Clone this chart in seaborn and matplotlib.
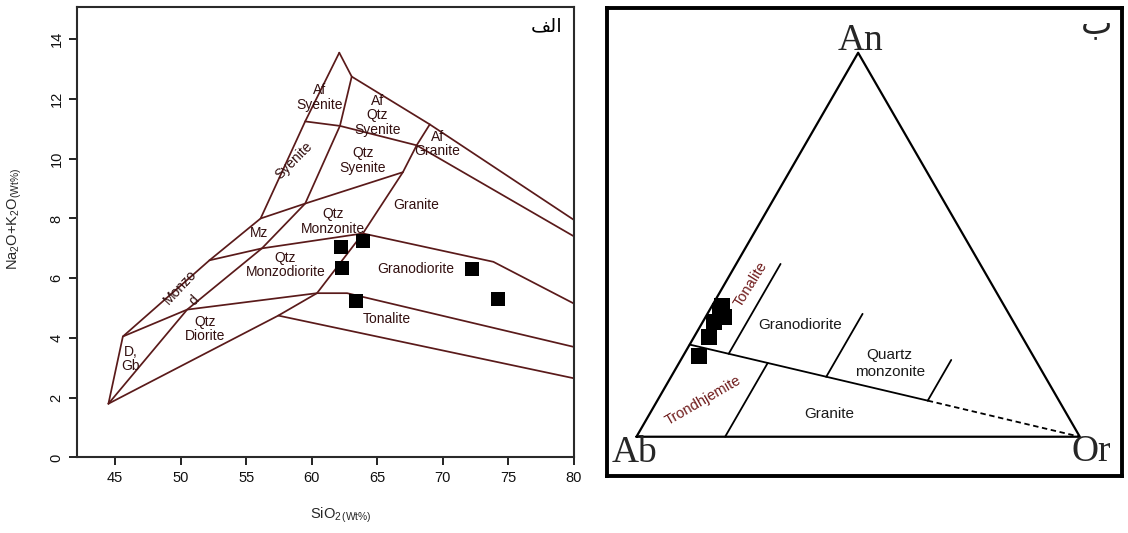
import numpy as np
import matplotlib
matplotlib.use('Agg')
import matplotlib.pyplot as plt
import seaborn as sns

sns.set_style('ticks')
plt.rcParams['font.family'] = ['Liberation Sans', 'DejaVu Sans']
plt.rcParams['mathtext.fontset'] = 'custom'
plt.rcParams['mathtext.rm'] = 'Liberation Sans'
plt.rcParams['mathtext.it'] = 'Liberation Sans:italic'

# ---- left panel: plutonic TAS field boundaries (SiO2 wt%, Na2O+K2O wt%) ----
outer_x = [44.5, 45.6, 52.2, 56.1, 59.5, 62.1]
outer_y = [1.8, 4.05, 6.6, 8.0, 11.25, 13.55]
top_x = [62.1, 63.05, 69.0, 80.0]
top_y = [13.55, 12.75, 11.15, 7.95]
alk_x = [59.5, 62.15, 68.0, 80.0]
alk_y = [11.25, 11.1, 10.45, 7.4]
mid_x = [44.5, 50.5, 56.2, 59.5, 62.15, 63.05]
mid_y = [1.8, 4.95, 7.0, 8.5, 11.1, 12.75]
diag_x = [57.45, 60.4, 63.9, 66.95, 68.0, 69.0]
diag_y = [4.75, 5.5, 7.5, 9.55, 10.45, 11.15]
mz_top_x = [56.1, 59.5, 66.95]
mz_top_y = [8.0, 8.5, 9.55]
mz_base_x = [52.2, 56.2, 63.9, 73.85, 80.0]
mz_base_y = [6.6, 7.0, 7.5, 6.55, 5.15]
dio_top_x = [45.6, 50.5, 60.4, 62.7, 80.0]
dio_top_y = [4.05, 4.95, 5.5, 5.5, 3.7]
dio_base_x = [44.5, 57.45, 80.0]
dio_base_y = [1.8, 4.75, 2.65]

# samples
sio2 = [62.2, 63.9, 62.3, 72.2, 63.4, 74.2]
alkali = [7.05, 7.25, 6.35, 6.3, 5.25, 5.3]

# field names
tas_labels = ['Af\nSyenite', 'Af\nQtz\nSyenite', 'Af\nGranite', 'Syenite', 'Qtz\nSyenite',
              'Granite', 'Qtz\nMonzonite', 'Mz', 'Qtz\nMonzodiorite', 'Granodiorite',
              'Monzo', 'd', 'Qtz\nDiorite', 'D,\nGb', 'Tonalite']
tas_lab_x = [60.6, 65.0, 69.6, 58.6, 63.9, 68.0, 61.6, 56.0, 58.0, 67.9, 50.0, 51.0, 51.9, 46.2, 65.7]
tas_lab_y = [12.05, 11.45, 10.5, 9.95, 9.95, 8.45, 7.9, 7.5, 6.45, 6.3, 5.7, 5.25, 4.3, 3.3, 4.65]
tas_lab_rot = [0, 0, 0, 45, 0, 0, 0, 0, 0, 0, 47, 47, 0, 0, 0]

# ---- right panel: An-Ab-Or (%) ----
tri_an = [0, 0, 100, 0]
tri_or = [0, 100, 0, 0]
div_an = [24, 9.4]
div_or = [0, 61]
dash_an = [9.4, 0]
dash_or = [61, 100]
ton_gd_an = [21.6, 45]
ton_gd_or = [10, 10]
tr_gr_an = [0, 19.2]
tr_gr_or = [20, 20]
gd_qm_an = [15.6, 32]
gd_qm_or = [35, 35]
qm_end_an = [9.4, 20]
qm_end_or = [61, 61]

smp_an = [21.0, 26.0, 30.0, 32.7, 31.2, 34.0]
smp_ab = [75.4, 70.6, 67.4, 64.8, 64.6, 63.7]
smp_or = [3.6, 3.4, 2.6, 2.5, 4.2, 2.3]

line_c = '#5a1a1a'
text_c = '#331010'


def tern(an, orr):
    an = np.asarray(an, float) / 100
    orr = np.asarray(orr, float) / 100
    return orr + an / 2, an * np.sqrt(3) / 2


fig = plt.figure(figsize=(11.28, 5.33), dpi=100)

# ---------------- left ----------------
ax = fig.add_axes([0.068, 0.1417, 0.4409, 0.8446])
for xs, ys in [(outer_x, outer_y), (top_x, top_y), (alk_x, alk_y), (mid_x, mid_y),
               (diag_x, diag_y), (mz_top_x, mz_top_y), (mz_base_x, mz_base_y),
               (dio_top_x, dio_top_y), (dio_base_x, dio_base_y)]:
    ax.plot(xs, ys, color=line_c, lw=1.25, zorder=2)

sns.scatterplot(x=sio2, y=alkali, marker='s', s=115, color='black', edgecolor='black',
                linewidth=0, ax=ax, zorder=4)

for t, x, y, r in zip(tas_labels, tas_lab_x, tas_lab_y, tas_lab_rot):
    ax.text(x, y, t, ha='center', va='center', fontsize=10, color=text_c,
            rotation=r, linespacing=1.05, zorder=3)

ax.text(77.9, 14.45, '\uFED2\uFEDF\uFE8D', ha='center', va='center', fontsize=14,
        family=['DejaVu Sans'], color='black')

ax.set_xlim(42.08, 80)
ax.set_ylim(0, 15.07)
ax.set_xticks([45, 50, 55, 60, 65, 70, 75, 80])
ax.set_yticks([0, 2, 4, 6, 8, 10, 12, 14])
ax.tick_params(axis='both', labelsize=10.5, length=6, width=1.3, colors='#111111')
for lab in ax.get_yticklabels():
    lab.set_rotation(90)
    lab.set_va('center')
for sp in ax.spines.values():
    sp.set_visible(True)
    sp.set_linewidth(1.5)
    sp.set_color('#2a2a2a')
ax.set_xlabel(r'SiO$_{2\,\mathrm{(Wt\%)}}$', fontsize=10.5)
ax.set_ylabel(r'Na$_2$O+K$_2$O$_{\mathrm{(Wt\%)}}$', fontsize=10.5)
ax.xaxis.set_label_coords(0.53, -0.108)
ax.yaxis.set_label_coords(-0.105, 0.53)

# ---------------- right ----------------
bx = fig.add_axes([0.5379, 0.1069, 0.4568, 0.8773])
bx.set_xlim(-0.067, 1.0952)
bx.set_ylim(-0.0886, 0.966)
bx.set_xticks([])
bx.set_yticks([])
for sp in bx.spines.values():
    sp.set_visible(True)
    sp.set_linewidth(2.8)
    sp.set_color('black')

tx, ty = tern(tri_an, tri_or)
bx.plot(tx, ty, color='black', lw=1.6)
for an, orr in [(div_an, div_or), (ton_gd_an, ton_gd_or), (tr_gr_an, tr_gr_or),
                (gd_qm_an, gd_qm_or), (qm_end_an, qm_end_or)]:
    px, py = tern(an, orr)
    bx.plot(px, py, color='black', lw=1.3)
px, py = tern(dash_an, dash_or)
bx.plot(px, py, color='black', lw=1.3, ls=(0, (3, 2)))

sx, sy = tern(smp_an, smp_or)
sns.scatterplot(x=sx, y=sy, marker='s', s=140, color='black', edgecolor='black',
                linewidth=0, ax=bx, zorder=4)

serif = ['Liberation Serif', 'DejaVu Serif']
bx.text(0.505, 0.894, 'An', ha='center', va='center', fontsize=27, family=serif)
bx.text(-0.004, -0.037, 'Ab', ha='center', va='center', fontsize=27, family=serif)
bx.text(1.025, -0.033, 'Or', ha='center', va='center', fontsize=27, family=serif)
bx.text(1.038, 0.932, '\u0628', ha='center', va='center', fontsize=24, family=['DejaVu Sans'])

red_c = '#6e1a1a'
bx.text(0.258, 0.343, 'Tonalite', ha='center', va='center', fontsize=10.5, rotation=58, color=red_c)
bx.text(0.150, 0.081, 'Trondhjemite', ha='center', va='center', fontsize=10.5, rotation=30, color=red_c)
bx.text(0.370, 0.252, 'Granodiorite', ha='center', va='center', fontsize=11, color='#1a1a1a')
bx.text(0.571, 0.165, 'Quartz\nmonzonite', ha='center', va='center', fontsize=11, color='#1a1a1a')
bx.text(0.434, 0.051, 'Granite', ha='center', va='center', fontsize=11, color='#1a1a1a')

fig.savefig('out.png', dpi=100)
